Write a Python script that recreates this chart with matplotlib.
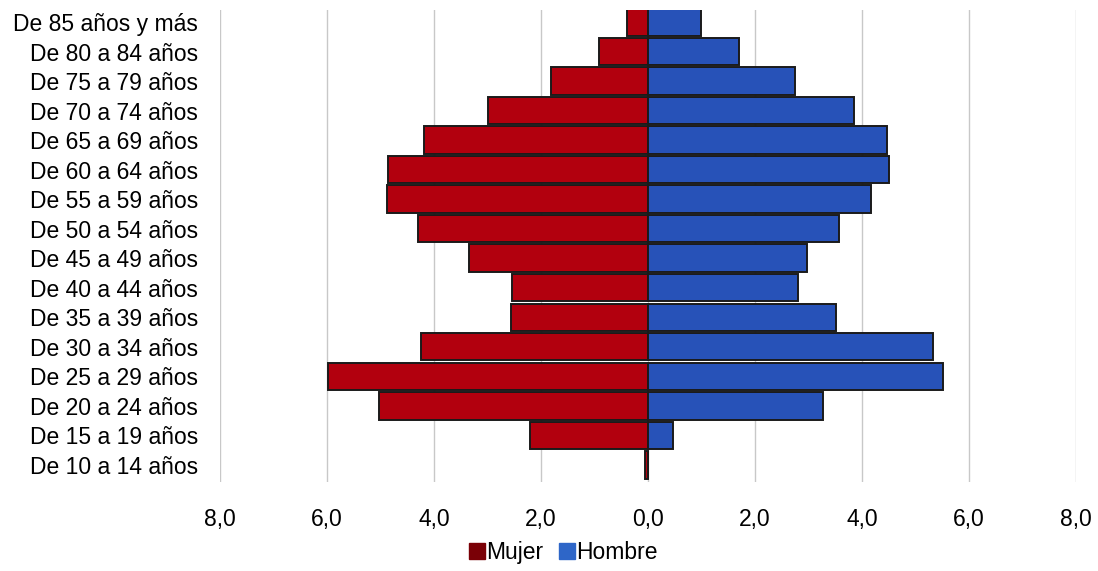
import matplotlib
matplotlib.use("Agg")
import matplotlib.pyplot as plt
from matplotlib.patches import Patch
from matplotlib.ticker import FuncFormatter, FixedLocator

plt.rcParams['font.family'] = ['Liberation Sans', 'DejaVu Sans']

grupos = ["De 10 a 14 años", "De 15 a 19 años", "De 20 a 24 años", "De 25 a 29 años",
          "De 30 a 34 años", "De 35 a 39 años", "De 40 a 44 años", "De 45 a 49 años",
          "De 50 a 54 años", "De 55 a 59 años", "De 60 a 64 años", "De 65 a 69 años",
          "De 70 a 74 años", "De 75 a 79 años", "De 80 a 84 años", "De 85 años y más"]
mujer = [0.05, 2.2, 5.03, 5.98, 4.24, 2.56, 2.54, 3.35, 4.3, 4.88, 4.86, 4.19, 3.0, 1.81, 0.92, 0.4]
hombre = [0.0, 0.47, 3.27, 5.51, 5.33, 3.51, 2.8, 2.97, 3.57, 4.17, 4.5, 4.47, 3.85, 2.75, 1.7, 0.99]
ticks = [-8, -6, -4, -2, 0, 2, 4, 6, 8]

rojo = "#B2000E"
azul = "#2752B8"
borde = "#1a1a1a"

fig = plt.figure(figsize=(10.98, 5.71), dpi=100)
ax = fig.add_axes([0.2004, 0.156, 0.7796, 0.8265])

y = list(range(len(grupos)))
ax.barh(y, [-v for v in mujer], height=0.93, color=rojo, edgecolor=borde, linewidth=1.4, zorder=3)
ax.barh(y, hombre, height=0.93, color=azul, edgecolor=borde, linewidth=1.4, zorder=3)

ax.set_xlim(-8, 8)
ax.set_ylim(-0.58, 15.41)
ax.xaxis.set_major_locator(FixedLocator(ticks))
ax.xaxis.set_major_formatter(FuncFormatter(lambda v, p: f"{abs(v):.1f}".replace(".", ",")))
ax.set_yticks(y)
ax.set_yticklabels(grupos)
ax.grid(axis="x", color="#c8c8c8", linewidth=1.0, zorder=0)
for s in ax.spines.values():
    s.set_visible(False)
ax.tick_params(axis="both", length=0, labelsize=16.5)
ax.tick_params(axis="x", pad=19)
ax.tick_params(axis="y", pad=16)

handles = [Patch(facecolor="#7a0006", edgecolor="#7a0006", label="Mujer"),
           Patch(facecolor="#2E66C8", edgecolor="#2E66C8", label="Hombre")]
fig.legend(handles=handles, loc="center", bbox_to_anchor=(0.513, 0.032), ncol=2, frameon=False,
           fontsize=16.5, handlelength=0.7, handleheight=0.7, handletextpad=0.05, columnspacing=0.7)

fig.savefig("out.png", dpi=100, facecolor="white")
